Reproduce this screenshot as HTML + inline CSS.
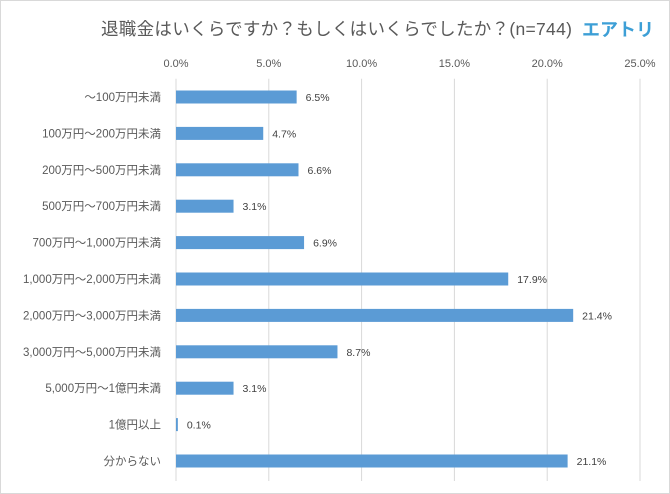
<!DOCTYPE html>
<html><head><meta charset="utf-8"><style>
body{margin:0;background:#fff}
#c{position:relative;width:670px;height:494px;box-sizing:border-box;border:1px solid #d9d9d9;background:#fff;font-family:"Liberation Sans","Noto Sans CJK JP",sans-serif;overflow:hidden}
.t{position:absolute;white-space:nowrap}
</style></head><body>
<div id="c">
<div class="t" style="left:100px;top:15px;font-size:17.5px;letter-spacing:0.3px;color:#595959">退職金はいくらですか？もしくはいくらでしたか？(n=744)</div>
<div class="t" style="left:581px;top:15px;font-size:18px;font-weight:bold;color:#3d9fd6">エアトリ</div>
<svg id="s" width="670" height="494" style="position:absolute;left:0;top:0"></svg>
</div>
<script>
const categories=["～100万円未満","100万円～200万円未満","200万円～500万円未満","500万円～700万円未満","700万円～1,000万円未満","1,000万円～2,000万円未満","2,000万円～3,000万円未満","3,000万円～5,000万円未満","5,000万円～1億円未満","1億円以上","分からない"];
const values=[6.5,4.7,6.6,3.1,6.9,17.9,21.4,8.7,3.1,0.1,21.1];
const ticks=[0,5,10,15,20,25];
const NS="http://www.w3.org/2000/svg";
const s=document.getElementById('s');
const x0=175,x1=639,top0=77.8,bot=478.2,gridBot=480;
const xs=v=>x0+(v/25)*(x1-x0);
const step=(bot-top0)/categories.length;
const yc=i=>top0+step*(i+0.5);
function mk(t,a){const e=document.createElementNS(NS,t);for(const k in a)e.setAttribute(k,a[k]);s.appendChild(e);return e;}
ticks.forEach(t=>{
 const l=mk('line',{x1:xs(t),x2:xs(t),y1:top0,y2:gridBot,stroke:'#d9d9d9','stroke-width':1});
 
 
 const tx=mk('text',{x:xs(t),y:66,'text-anchor':'middle','font-size':11,fill:'#595959'});
 tx.textContent=t.toFixed(1)+'%';
 
 
});
categories.forEach((c,i)=>{
 const y=yc(i);
 const lab=mk('text',{x:160,y:y+4,'text-anchor':'end','font-size':11.5,fill:'#595959'});
 lab.textContent=c;
 
 
 const w=Math.max(xs(values[i])-x0,1.5);
 const b=mk('rect',{x:x0,y:y-6.5,width:w,height:13,fill:'#5b9bd5'});
 
 
 const v=mk('text',{x:x0+w+9,y:y+4,'font-size':10.5,fill:'#404040'});
 v.textContent=values[i].toFixed(1)+'%';
 
 
});
</script>
</body></html>
